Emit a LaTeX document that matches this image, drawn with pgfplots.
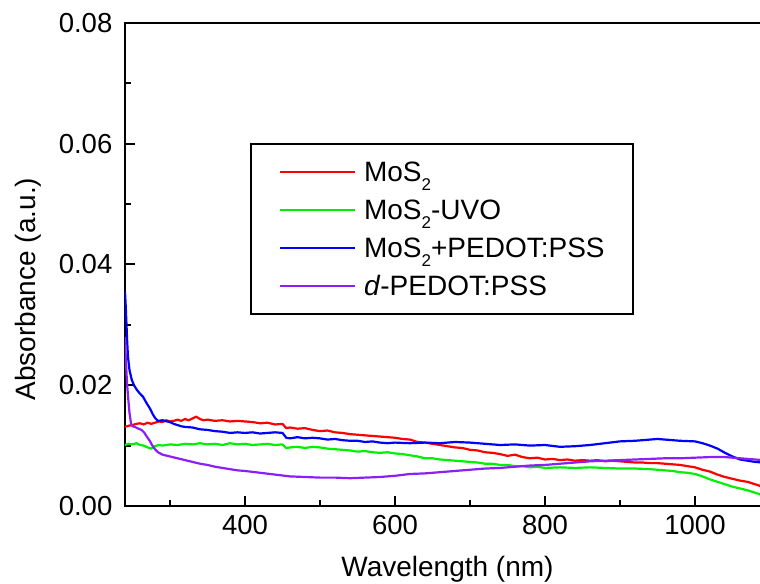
\documentclass[border=0pt]{standalone}
\usepackage{fontspec}
\setmainfont{Liberation Sans}
\usepackage{pgfplots}
\pgfplotsset{compat=1.18}
\definecolor{cRed}{RGB}{255,0,0}
\definecolor{cGreen}{RGB}{0,240,0}
\definecolor{cBlue}{RGB}{0,0,255}
\definecolor{cPurple}{RGB}{140,30,250}
\newcommand{\subtwo}{\raisebox{-4.5pt}{\fontsize{8.5}{9}\selectfont 2}}
\begin{document}
\begin{tikzpicture}
\begin{axis}[
  scale only axis, width=322.5pt, height=241.5pt,
  xmin=240, xmax=1100, ymin=0, ymax=0.08,
  xtick={400,600,800,1000}, minor xtick={300,500,700,900},
  ytick={0,0.02,0.04,0.06,0.08}, minor ytick={0.01,0.03,0.05,0.07},
  xtick pos=bottom, ytick pos=left,
  tick align=inside,
  major tick length=5pt, minor tick length=3pt,
  axis line style={line width=1pt},
  every tick/.append style={black, line width=1pt},
  every minor tick/.append style={black, line width=1pt},
  scaled y ticks=false,
  /pgf/number format/assume math mode=true,
  yticklabel style={/pgf/number format/.cd, fixed, fixed zerofill, precision=2, /tikz/.cd, font=\fontsize{13.75}{16}\selectfont, xshift=-2.8pt},
  xticklabel style={/pgf/number format/.cd, 1000 sep={}, /tikz/.cd, font=\fontsize{13.75}{16}\selectfont, yshift=-1.3pt},
  xlabel={Wavelength (nm)}, ylabel={Absorbance (a.u.)},
  xlabel style={at={(rel axis cs:0.5,-0.147)}, anchor=base, font=\fontsize{14}{17}\selectfont},
  ylabel style={at={(rel axis cs:-0.1395,0.449)}, anchor=base, font=\fontsize{14}{17}\selectfont},
  legend style={at={(rel axis cs:0.1938,0.7516)}, anchor=north west, draw=black, line width=0.9pt,
    inner xsep=14pt, inner ysep=4.5pt, row sep=0pt, column sep=4pt, fill=white,
    font=\fontsize{14}{16.8}\selectfont,
    nodes={inner sep=0pt, text height=10pt, text depth=0pt, minimum height=19pt}},
  legend cell align=left,
  legend image code/.code={\draw[#1, line width=1.1pt] (0pt,0pt) -- (37.5pt,0pt);},
  every axis plot/.append style={line width=1.1pt, line join=round},
]
\coordinate (sw) at (rel axis cs:0,0);
\coordinate (nw) at (rel axis cs:0,1);
\addplot[color=cRed] coordinates {
(240,0.0131) (245,0.0133) (250,0.0134) (255,0.0136) (260,0.0137) (265,0.0135) (270,0.0138) (275,0.0136)
(280,0.0138) (285,0.0140) (290,0.0139) (295,0.0142) (300,0.0140) (305,0.0141) (310,0.0143) (315,0.0141)
(320,0.0144) (325,0.0142) (330,0.0145) (335,0.0148) (340,0.0144) (345,0.0142) (350,0.0143) (360,0.0141)
(370,0.0142) (380,0.0140) (390,0.0141) (400,0.0140) (410,0.0139) (420,0.0137) (430,0.0138) (440,0.0135)
(450,0.0136) (455,0.0129) (460,0.0130) (470,0.0128) (480,0.0129) (490,0.0126) (500,0.0124) (510,0.0125)
(520,0.0122) (530,0.0121) (540,0.0119) (550,0.0118) (560,0.0117) (570,0.0116) (580,0.0115) (590,0.0114)
(600,0.0113) (610,0.0111) (620,0.0110) (630,0.0106) (640,0.0105) (650,0.0103) (660,0.0101) (670,0.0099)
(680,0.0097) (690,0.0096) (700,0.0093) (710,0.0092) (720,0.0089) (730,0.0088) (740,0.0086) (750,0.0083)
(760,0.0085) (770,0.0081) (780,0.0079) (790,0.0080) (800,0.0077) (810,0.0078) (820,0.0076) (830,0.0077)
(840,0.0075) (850,0.0076) (860,0.0075) (870,0.0076) (880,0.0074) (890,0.0075) (900,0.0074) (910,0.0073)
(920,0.0072) (930,0.0072) (940,0.0071) (950,0.0071) (960,0.0070) (970,0.0069) (980,0.0068) (990,0.0066)
(1000,0.0064) (1010,0.0060) (1020,0.0057) (1030,0.0052) (1040,0.0048) (1050,0.0045) (1060,0.0042)
(1070,0.0040) (1080,0.0036) (1090,0.0032) (1100,0.0030)
};
\addlegendentry{MoS\subtwo}
\addplot[color=cGreen] coordinates {
(240,0.0101) (245,0.0103) (250,0.0102) (255,0.0104) (260,0.0101) (265,0.0100) (270,0.0097) (275,0.0095)
(280,0.0099) (285,0.0101) (290,0.0100) (300,0.0102) (310,0.0101) (320,0.0103) (330,0.0102) (340,0.0104)
(350,0.0102) (360,0.0103) (370,0.0101) (380,0.0104) (390,0.0102) (400,0.0103) (410,0.0101) (420,0.0102)
(430,0.0103) (440,0.0101) (450,0.0102) (455,0.0096) (460,0.0097) (470,0.0098) (480,0.0096) (490,0.0098)
(500,0.0097) (510,0.0095) (520,0.0094) (530,0.0093) (540,0.0092) (550,0.0090) (560,0.0091) (570,0.0089)
(580,0.0088) (590,0.0089) (600,0.0087) (610,0.0086) (620,0.0084) (630,0.0082) (640,0.0079) (650,0.0079)
(660,0.0077) (670,0.0076) (680,0.0075) (690,0.0074) (700,0.0073) (710,0.0072) (720,0.0070) (730,0.0070)
(740,0.0068) (750,0.0068) (760,0.0066) (770,0.0066) (780,0.0064) (790,0.0065) (800,0.0063) (820,0.0064)
(840,0.0063) (860,0.0064) (880,0.0063) (900,0.0062) (920,0.0062) (940,0.0061) (950,0.0060) (960,0.0059)
(970,0.0058) (980,0.0056) (990,0.0055) (1000,0.0053) (1010,0.0049) (1020,0.0044) (1030,0.0040)
(1040,0.0036) (1050,0.0032) (1060,0.0029) (1070,0.0026) (1080,0.0022) (1090,0.0018) (1100,0.0016)
};
\addlegendentry{MoS\subtwo-UVO}
\addplot[color=cBlue] coordinates {
(240,0.0355) (241,0.0330) (242,0.0300) (243,0.0270) (244,0.0247) (246,0.0225) (249,0.0209) (252,0.0200)
(256,0.0192) (260,0.0186) (264,0.0181) (268,0.0172) (273,0.0162) (277,0.0152) (280,0.0146) (284,0.0141)
(290,0.0142) (296,0.0140) (300,0.0139) (305,0.0136) (310,0.0134) (315,0.0132) (320,0.0131) (330,0.0130)
(340,0.0127) (350,0.0126) (360,0.0124) (370,0.0123) (380,0.0121) (390,0.0122) (400,0.0121) (410,0.0122)
(420,0.0120) (430,0.0121) (440,0.0122) (450,0.0121) (455,0.0113) (460,0.0112) (470,0.0114) (480,0.0112)
(490,0.0113) (500,0.0112) (510,0.0110) (520,0.0111) (530,0.0109) (540,0.0108) (550,0.0108) (560,0.0106)
(570,0.0107) (580,0.0105) (590,0.0104) (600,0.0105) (620,0.0104) (640,0.0105) (660,0.0104) (680,0.0106)
(700,0.0105) (720,0.0103) (740,0.0101) (760,0.0102) (780,0.0100) (800,0.0101) (820,0.0098) (840,0.0099)
(860,0.0101) (880,0.0104) (900,0.0107) (920,0.0108) (940,0.0110) (950,0.0111) (960,0.0110) (980,0.0108)
(1000,0.0107) (1010,0.0104) (1020,0.0100) (1030,0.0095) (1040,0.0088) (1050,0.0082) (1060,0.0077)
(1070,0.0075) (1080,0.0073) (1090,0.0072) (1100,0.0071)
};
\addlegendentry{MoS\subtwo+PEDOT:PSS}
\addplot[color=cPurple] coordinates {
(240,0.0280) (241,0.0247) (242,0.0220) (243,0.0198) (245,0.0168) (246,0.0154) (248,0.0137) (250,0.0132)
(253,0.0131) (258,0.0128) (262,0.0126) (266,0.0121) (269,0.0115) (273,0.0108) (276,0.0101) (280,0.0094)
(284,0.0089) (290,0.0085) (300,0.0082) (310,0.0079) (320,0.0076) (330,0.0073) (340,0.0070) (350,0.0068)
(360,0.0065) (370,0.0063) (380,0.0061) (390,0.0059) (400,0.0058) (420,0.0055) (440,0.0052) (460,0.0049)
(480,0.0048) (500,0.0047) (520,0.0047) (540,0.0046) (560,0.0047) (580,0.0048) (600,0.0050) (620,0.0053)
(640,0.0054) (660,0.0056) (680,0.0058) (700,0.0060) (720,0.0062) (740,0.0063) (760,0.0065) (780,0.0067)
(800,0.0068) (820,0.0070) (840,0.0072) (860,0.0074) (880,0.0075) (900,0.0076) (920,0.0077) (940,0.0078)
(960,0.0079) (980,0.0079) (1000,0.0080) (1020,0.0081) (1040,0.0081) (1050,0.0080) (1060,0.0079)
(1080,0.0077) (1090,0.0076) (1100,0.0075)
};
\addlegendentry{\textit{d}-PEDOT:PSS}
\end{axis}
\pgfresetboundingbox
\path[use as bounding box] ([xshift=-62.5pt,yshift=-39pt]sw) rectangle ([xshift=317.5pt,yshift=11.5pt]nw);
\end{tikzpicture}
\end{document}
